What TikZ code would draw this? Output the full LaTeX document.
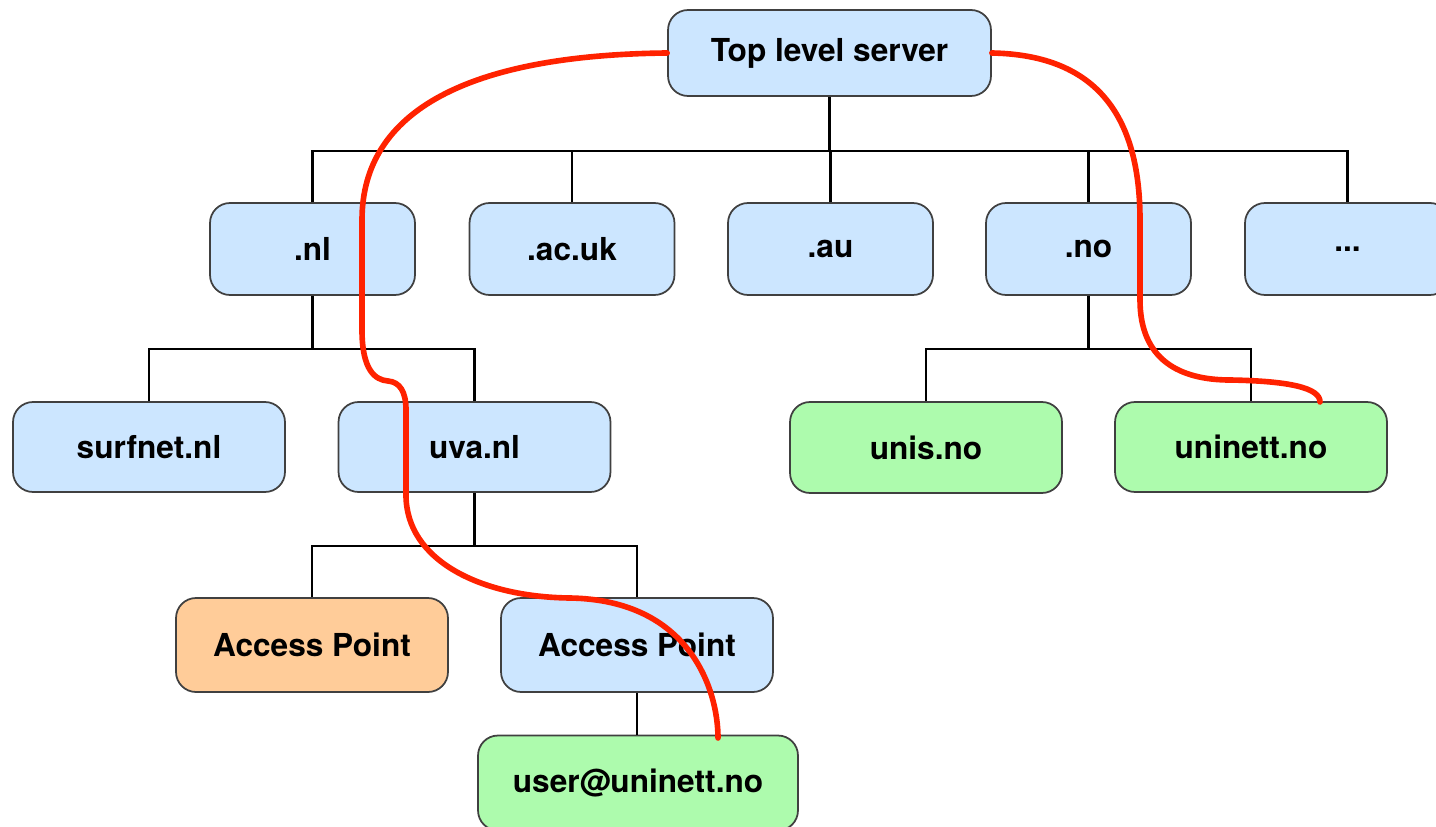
\documentclass[tikz,border=0pt]{standalone}
\usepackage{fontspec}
\setmainfont{TeX Gyre Heros}
\begin{document}
\begin{tikzpicture}[x=0.02cm,y=-0.02cm,
  box/.style={draw=black!75,line width=1pt,rounded corners=0.4cm,inner sep=0pt,
    font=\fontsize{18}{20}\selectfont\bfseries,text=black},
  blue/.style={box,fill=bluefill},
  green/.style={box,fill=greenfill},
  orange/.style={box,fill=orangefill},
  link/.style={line width=1.2pt,black},
  route/.style={line width=3.2pt,draw=routered,line cap=round}]
\definecolor{bluefill}{HTML}{CCE6FF}
\definecolor{greenfill}{HTML}{ADFBAD}
\definecolor{orangefill}{HTML}{FFCC99}
\definecolor{routered}{HTML}{FF2200}
\useasboundingbox (0,0) rectangle (1436,827);
% nodes
\node[blue,minimum width=6.46cm,minimum height=1.72cm] (top) at (829.5,53) {Top level server};
\node[blue,minimum width=4.1cm,minimum height=1.84cm] (nl) at (312.5,249) {.nl};
\node[blue,minimum width=4.1cm,minimum height=1.84cm] (acuk) at (572,249) {.ac.uk};
\node[blue,minimum width=4.1cm,minimum height=1.84cm] (au) at (830.5,249) {.au};
\node[blue,minimum width=4.1cm,minimum height=1.84cm] (no) at (1088.5,249) {.no};
\node[blue,minimum width=4.1cm,minimum height=1.84cm] (dots) at (1347.5,249) {...};
\node[blue,minimum width=5.44cm,minimum height=1.8cm] (surf) at (149,447) {surfnet.nl};
\node[blue,minimum width=5.44cm,minimum height=1.8cm] (uva) at (474.5,447) {uva.nl};
\node[green,minimum width=5.44cm,minimum height=1.82cm] (unis) at (926,447.5) {unis.no};
\node[green,minimum width=5.44cm,minimum height=1.8cm] (uninett) at (1251,447) {uninett.no};
\node[orange,minimum width=5.44cm,minimum height=1.88cm] (ap1) at (312,645) {Access Point};
\node[blue,minimum width=5.44cm,minimum height=1.88cm] (ap2) at (637,645) {Access Point};
\node[green,minimum width=6.4cm,minimum height=1.9cm] (user) at (638,783) {user@uninett.no};
% tree connectors
\draw[link] (top.south) -- ++(0,54) coordinate (b1);
\draw[link] (nl.north) |- (b1) -| (dots.north);
\draw[link] (acuk.north) -- (acuk.north |- b1);
\draw[link] (au.north) -- (au.north |- b1);
\draw[link] (no.north) -- (no.north |- b1);
\draw[link] (nl.south) -- ++(0,53) coordinate (b2);
\draw[link] (surf.north) |- (b2) -| (uva.north);
\draw[link] (no.south) -- ++(0,53) coordinate (b3);
\draw[link] (unis.north) |- (b3) -| (uninett.north);
\draw[link] (uva.south) -- ++(0,53) coordinate (b4);
\draw[link] (ap1.north) |- (b4) -| (ap2.north);
\draw[link] (ap2.south) -- (user.north -| ap2.south);
% routes
\coordinate (r1end) at (718,738);
\coordinate (r2end) at (1320,402);
\draw[route] (top.west) .. controls (470,55) and (362,110) .. (362,220) -- (362,330)
  .. controls (362,370) and (375,380) .. (388,381)
  .. controls (400,382) and (406,392) .. (406,410) -- (406,495)
  .. controls (406,560) and (480,597) .. (570,598)
  .. controls (690,600) and (718,690) .. (r1end);
\draw[route] (top.east) .. controls (1100,55) and (1140,120) .. (1140,220) -- (1140,300)
  .. controls (1140,360) and (1180,380) .. (1230,380)
  .. controls (1290,381) and (1320,388) .. (r2end);
\end{tikzpicture}
\end{document}
